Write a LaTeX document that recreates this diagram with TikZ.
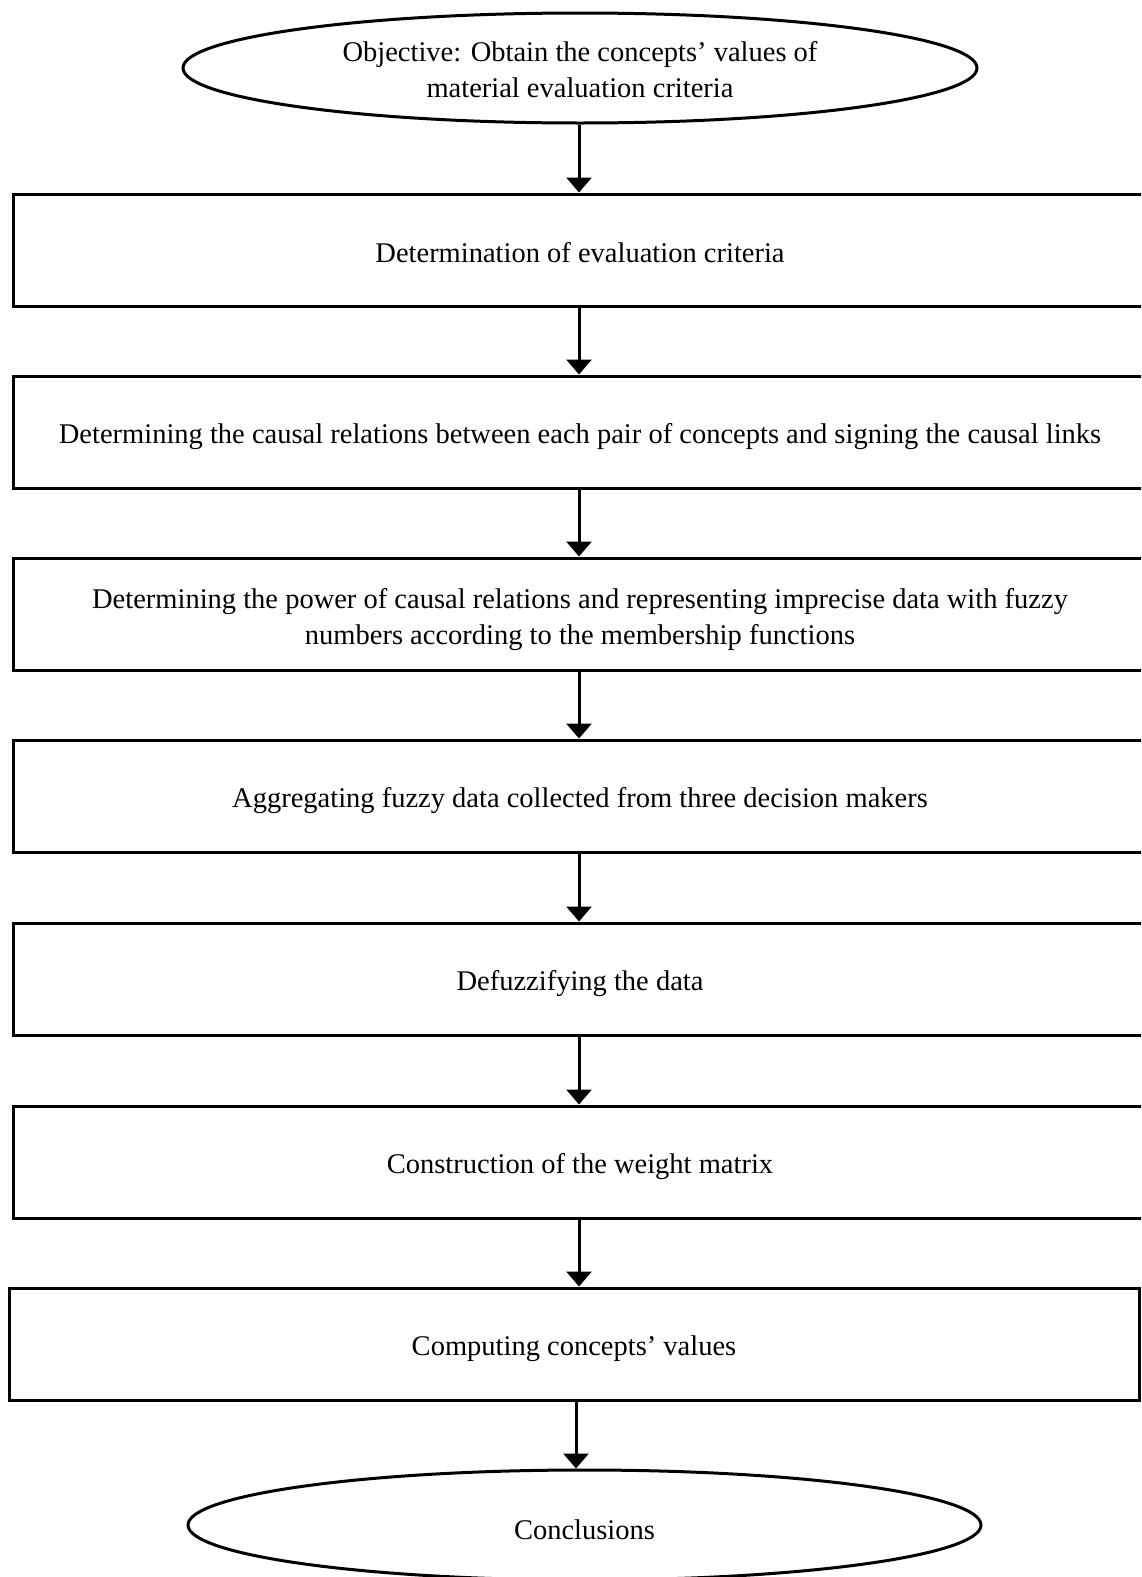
\documentclass[tikz,border=0pt]{standalone}
\usepackage{fontspec}
\setmainfont{Liberation Serif}
\usetikzlibrary{arrows.meta,shapes.geometric}
\begin{document}
\begin{tikzpicture}[x=1pt,y=1pt,
  stepbox/.style={draw=black,line width=3pt,rectangle,minimum height=112pt,inner sep=0pt},
  termnode/.style={draw=black,line width=3pt,ellipse,inner sep=0pt},
  steptext/.style={align=center,inner sep=0pt,font=\fontsize{28.5}{36}\selectfont},
  flow/.style={line width=3pt,-{Triangle[width=25pt,length=15pt]}}]
\clip (0,0) rectangle (1141,-1577);
\fill[white] (0,0) rectangle (1141,-1577);
\node[termnode,minimum width=794pt,minimum height=110pt] (obj) at (580,-68) {};
\node[steptext] (tobj) at ([yshift=-2pt]obj.center) {Objective: Obtain the concepts’ values of\\material evaluation criteria};
\node[stepbox,minimum width=1134pt] (b1) at (580,-250) {};
\node[steptext] (t1) at ([yshift=-3pt]b1.center) {Determination of evaluation criteria};
\node[stepbox,minimum width=1134pt] (b2) at (580,-432) {};
\node[steptext] (t2) at ([yshift=-5pt]b2.center) {Determining the causal relations between each pair of concepts and signing the causal links};
\node[stepbox,minimum width=1134pt] (b3) at (580,-614) {};
\node[steptext] (t3) at ([yshift=-6pt]b3.center) {Determining the power of causal relations and representing imprecise data with fuzzy\\numbers according to the membership functions};
\node[stepbox,minimum width=1134pt] (b4) at (580,-796) {};
\node[steptext] (t4) at ([yshift=-5pt]b4.center) {Aggregating fuzzy data collected from three decision makers};
\node[stepbox,minimum width=1134pt] (b5) at (580,-979) {};
\node[steptext] (t5) at ([yshift=-5pt]b5.center) {Defuzzifying the data};
\node[stepbox,minimum width=1134pt] (b6) at (580,-1162) {};
\node[steptext] (t6) at ([yshift=-5pt]b6.center) {Construction of the weight matrix};
\node[stepbox,minimum width=1130pt] (b7) at (574,-1344) {};
\node[steptext] (t7) at ([yshift=-5pt]b7.center) {Computing concepts’ values};
\node[termnode,minimum width=793pt,minimum height=110pt] (conc) at (584.5,-1525) {};
\node[steptext] (tconc) at ([yshift=-5pt]conc.center) {Conclusions};
\draw[flow] (obj.south -| 579,0) -- (b1.north -| 579,0);
\draw[flow] (b1.south -| 579,0) -- (b2.north -| 579,0);
\draw[flow] (b2.south -| 579,0) -- (b3.north -| 579,0);
\draw[flow] (b3.south -| 579,0) -- (b4.north -| 579,0);
\draw[flow] (b4.south -| 579,0) -- (b5.north -| 579,0);
\draw[flow] (b5.south -| 579,0) -- (b6.north -| 579,0);
\draw[flow] (b6.south -| 579,0) -- (b7.north -| 579,0);
\draw[flow] (b7.south -| 576,0) -- (conc.north -| 576,0);
\end{tikzpicture}
\end{document}
